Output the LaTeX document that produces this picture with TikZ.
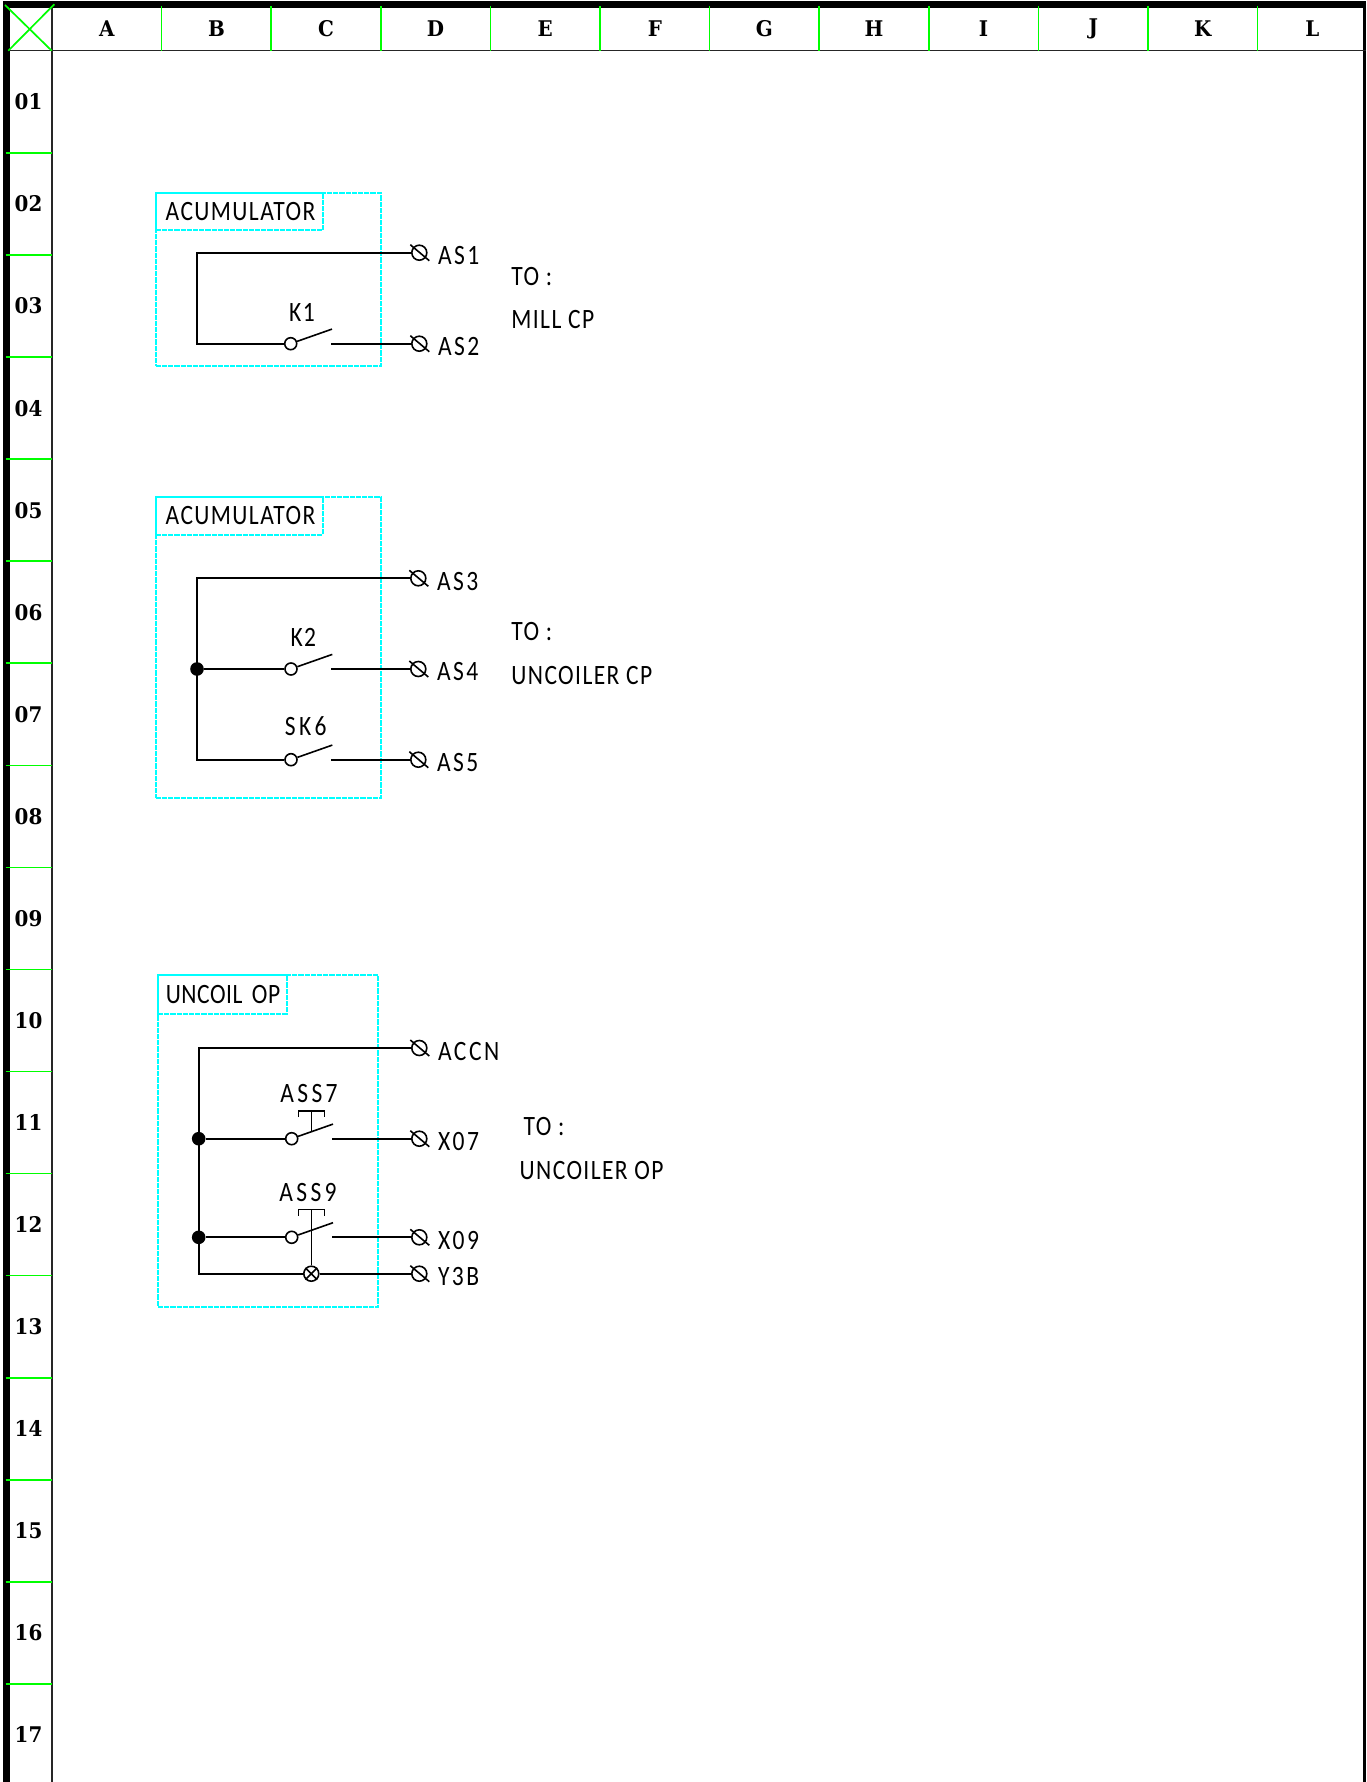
\documentclass[tikz,border=0pt]{standalone}
\usepackage{fontspec}
\newfontfamily\cadfont[FakeStretch=0.84,LetterSpace=5]{Carlito}
\newfontfamily\headfont[FakeStretch=0.92]{DejaVu Serif}
\usetikzlibrary{positioning}
\definecolor{gridgreen}{RGB}{0,255,0}
\definecolor{panelcyan}{RGB}{0,255,255}
\tikzset{
  wire/.style   = {line width=0.9pt, black},
  thinwire/.style = {line width=0.8pt, black},
  gridline/.style = {line width=0.85pt, gridgreen},
  head/.style   = {font=\headfont\fontsize{10.8}{12}\selectfont\bfseries, inner sep=0pt},
  panel/.style  = {draw=panelcyan, line width=0.95pt, dash pattern=on 2.6pt off 0.5pt,
                   anchor=north west, inner sep=0pt, outer sep=0pt},
  tag/.style    = {panel, font=\cadfont\fontsize{14}{14}\selectfont, align=left,
                   inner xsep=5pt, text depth=0pt},
  label/.style  = {font=\cadfont\fontsize{14}{14}\selectfont, inner sep=0pt},
  widelabel/.style = {label, font=\cadfont\fontsize{14}{14}\selectfont\addfontfeature{LetterSpace=12}},
  termlabel/.style = {label, font=\cadfont\fontsize{14}{14}\selectfont\addfontfeature{LetterSpace=9},
                   anchor=west, right=5pt of #1, yshift=-1.5pt},
  term/.style   = {circle, draw, line width=0.8pt, minimum size=7.5pt, inner sep=0pt},
  contact/.style = {circle, draw, line width=0.8pt, fill=white, minimum size=6pt, inner sep=0pt},
  joint/.style  = {circle, fill=black, minimum size=6.8pt, inner sep=0pt}
}

\begin{document}
\begin{tikzpicture}[x=0.5pt, y=-0.5pt]
	  \useasboundingbox (0,0) rectangle (1366,1782);

	  % sheet frame
	  \fill[black] (3,1) rectangle (10,1782);
	  \fill[black] (3,1) rectangle (1366,8.5);
	  \fill[black] (1363,1) rectangle (1366,1782);
	  \draw[line width=0.8pt, black!85] (51.7,8) -- (51.7,1782);
	  \draw[line width=0.8pt, black!85] (10,50.7) -- (1366,50.7);

	  % corner cross
	  \draw[gridline] (5,5) -- (51.7,50.7);
	  \draw[gridline] (54.3,4.3) -- (8.3,50.7);

	  % column letters and their separators
	  \foreach \col [count=\i from 0] in {A,B,C,D,E,F,G,H,I,J,K,L} {
		\node[head] (col\col) at (106.8+109.6*\i,29) {\col};
		\ifnum\i>0 \draw[gridline] (52+109.6*\i,6) -- (52+109.6*\i,50.7); \fi
	  }

	  % row numbers and their separators
	  \foreach \row [count=\i from 0] in {01,02,03,04,05,06,07,08,09,10,11,12,13,14,15,16,17} {
		\node[head] (row\row) at (28.5,102+102.05*\i) {\row};
		\ifnum\i>0 \draw[gridline] (5.7,51+102.05*\i) -- (52,51+102.05*\i); \fi
	  }

	  % dashed panels with their titles
	  \node[panel, minimum width=112.5pt, minimum height=86.4pt] (panel1) at (155.7,193.3) {};
	  \node[tag, text width=73.5pt, minimum height=18.4pt] (tag1) at (155.7,193.3) {\raisebox{0.5pt}{ACUMULATOR}};
	  \node[panel, minimum width=112.5pt, minimum height=150.4pt] (panel2) at (155.7,497.3) {};
	  \node[tag, text width=73.5pt, minimum height=18.7pt] (tag2) at (155.7,497.3) {\raisebox{0.5pt}{ACUMULATOR}};
	  \node[panel, minimum width=110pt, minimum height=165.9pt] (panel3) at (158,975) {};
	  \node[tag, inner xsep=3.9pt, text width=56.5pt, minimum height=19.5pt] (tag3) at (158,975)
		{\addfontfeature{LetterSpace=2}\mbox{UNCOIL OP}};

	  % terminals
	  \foreach \name/\x/\y in {as1/419.3/252.7, as2/419.3/343.7,
			as3/418.3/578.3, as4/418.3/669, as5/418.3/759.7,
			accn/419.3/1048, x07/419.3/1138.7, x09/419.3/1237.3, y3b/419.3/1273.7}
		\node[term] (\name) at (\x,\y) {};

	  % contacts
	  \foreach \name/\x/\y in {k1/290.7/343.7, k2/291/669, sk6/291/759.7,
			ass7/291.7/1138.7, ass9/291.7/1237.3}
		\node[contact] (\name) at (\x,\y) {};

	  % junctions and corners
	  \node[joint] (dot2) at (197,669) {};
	  \node[joint] (dot7) at (198.7,1138.7) {};
	  \node[joint] (dot9) at (198.7,1237.3) {};
	  \coordinate (cn1) at (197,343.7);
	  \coordinate (cn2) at (197,759.7);
	  \coordinate (cn3) at (198.7,1273.7);

	  % lamp with its cross
	  \node[term, fill=white] (lamp) at (311.3,1273.7) {};
	  \draw[thinwire] (lamp.45) -- (lamp.225) (lamp.135) -- (lamp.315);

	  % wires
	  \draw[wire] (as1.west) -| (cn1) -- (k1.west);
	  \draw[wire] (as3.west) -| (cn2) -- (sk6.west);
	  \draw[wire] (dot2) -- (k2.west);
	  \draw[wire] (accn.west) -| (cn3) -- (lamp.west);
	  \draw[wire] (dot7) -- (ass7.west);
	  \draw[wire] (dot9) -- (ass9.west);
	  \draw[wire] (lamp.east) -- (y3b.west);

	  % blade and outgoing wire of every contact
	  \foreach \name/\target in {k1/as2, k2/as4, sk6/as5, ass7/x07, ass9/x09} {
		\path (\name.center) ++(40.3,0) coordinate (\name r) ++(1,-14.6) coordinate (\name b);
		\draw[thinwire] (\name.20) -- (\name b);
		\draw[wire] (\name r) -- (\target.west);
	  }

	  % slash through every terminal
	  \foreach \name in {as1,as2,as3,as4,as5,accn,x07,x09,y3b}
		\draw[thinwire] (\name.center) ++(-9,-8) -- ++(19,16);

	  % push buttons
	  \coordinate (t7) at (311.3,1110.7);
	  \coordinate (s7) at (311.3,1131.7);
	  \coordinate (t9) at (311.3,1209.3);
	  \draw[thinwire] (t7) -- (s7);
	  \draw[thinwire] (t9) -- (lamp.north);
	  \foreach \top in {t7,t9}
		\draw[thinwire] (\top) ++(-13,6.5) -- ++(0,-6.5) -- ++(26,0) -- ++(0,6.5);

	  % terminal names
	  \foreach \name/\txt in {as1/AS1, as2/AS2, as3/AS3, as4/AS4, as5/AS5,
			accn/ACCN, x07/X07, x09/X09, y3b/Y3B}
		\node[termlabel=\name] (\name txt) {\txt};

	  % contact names
	  \node[label] (k1txt) at (302,312) {K1};
	  \node[label] (k2txt) at (303.3,637.7) {K2};
	  \node[widelabel] (sk6txt) at (305.7,725.7) {SK6};
	  \node[widelabel] (ass7txt) at (309,1093.3) {ASS7};
	  \node[widelabel] (ass9txt) at (308,1192.3) {ASS9};

	  % destinations
	  \node[label, anchor=west] (to1) at (511,276.2) {TO :};
	  \node[label, anchor=west] (dest1) at (511,319.5) {MILL CP};
	  \node[label, anchor=west] (to2) at (511,632) {TO :};
	  \node[label, anchor=west] (dest2) at (511,675.5) {UNCOILER CP};
	  \node[label, anchor=west] (to3) at (523.3,1126.5) {TO :};
	  \node[label, anchor=west] (dest3) at (519.3,1171) {UNCOILER OP};

\end{tikzpicture}
\end{document}
